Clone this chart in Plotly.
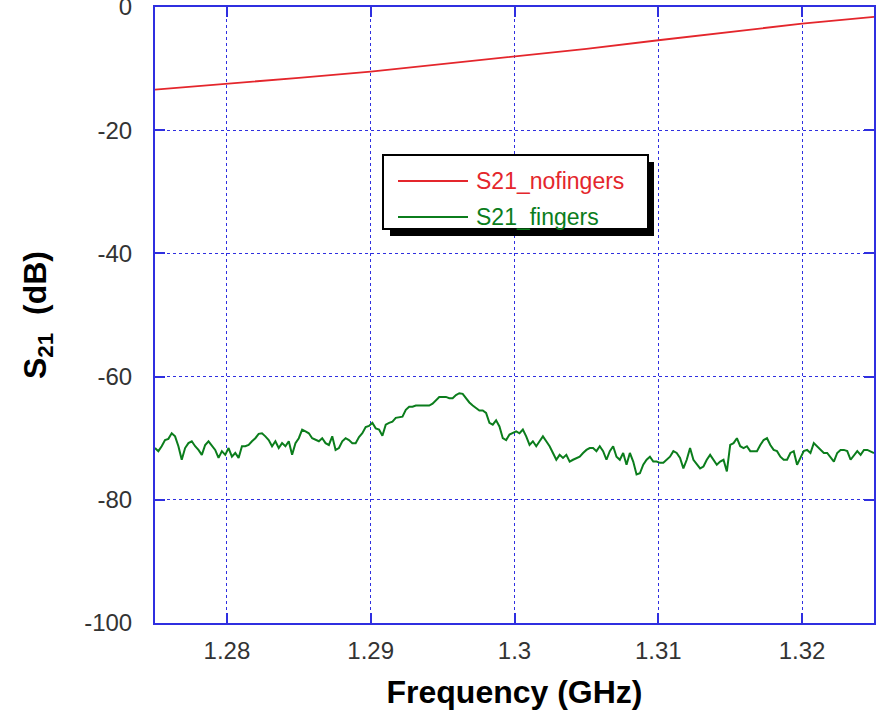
import numpy as np
import plotly.graph_objects as go

# ---- data ----
red_freq = [1.275, 1.28, 1.285, 1.29, 1.295, 1.30, 1.305, 1.31, 1.315, 1.32, 1.325]
red_db = [-13.4, -12.5, -11.5, -10.5, -9.3, -8.1, -6.8, -5.4, -4.0, -2.7, -1.6]

green_db = [
    # 1.275 - 1.2875
    -71.6, -72.1, -71.3, -70.3, -70.1, -69.2, -69.7, -71.3, -73.5, -71.6,
    -70.8, -70.5, -71.3, -71.9, -72.7, -71.1, -70.5, -71.3, -71.9, -73.2,
    -72.1, -72.7, -71.6, -73.0, -72.4, -73.2, -71.3, -71.3, -71.1, -70.5,
    -70.0, -69.3, -69.2, -69.7, -70.3, -71.3, -70.5, -71.6, -70.8, -71.3,
    -70.5, -72.7, -70.8, -70.0, -68.6, -68.9, -69.2, -70.0, -70.3, -70.5,
    -70.0, -70.8, -71.1, -69.7,
    # 1.2875 - 1.30
    -71.9, -71.6, -70.5, -70.0, -70.3, -70.8, -70.8, -69.8, -69.2, -68.2,
    -68.0, -67.5, -68.4, -68.6, -69.6, -67.8, -67.5, -67.3, -66.7, -66.6,
    -66.5, -65.4, -64.9, -64.9, -64.7, -64.7, -64.7, -64.8, -64.7, -64.4,
    -63.9, -63.3, -63.3, -63.3, -63.5, -63.5, -63.0, -62.7, -62.8, -63.5,
    -64.2, -64.7, -65.1, -65.5, -65.5, -65.9, -67.5, -67.8, -67.1, -68.1,
    -70.0, -70.3, -69.4, -69.2,
    # 1.30 - 1.3125
    -68.9, -69.2, -68.6, -69.7, -71.1, -70.5, -71.3, -70.5, -69.7, -70.5,
    -71.3, -72.4, -73.5, -72.7, -73.2, -72.7, -73.8, -73.5, -73.2, -73.0,
    -72.4, -71.9, -71.6, -71.6, -72.1, -71.3, -72.1, -73.5, -72.1, -71.3,
    -73.0, -73.5, -72.4, -74.3, -72.4, -73.8, -75.9, -75.7, -74.3, -73.5,
    -73.0, -73.8, -73.8, -74.0, -74.0, -73.5, -73.0, -72.1, -72.4, -73.2,
    -74.9, -73.5, -71.6, -73.5,
    # 1.3125 - 1.325
    -74.3, -74.9, -74.6, -73.5, -72.7, -73.5, -74.3, -73.8, -73.5, -75.4,
    -71.1, -70.8, -70.0, -71.3, -71.6, -71.3, -72.1, -72.1, -72.1, -71.1,
    -70.3, -70.0, -71.1, -71.9, -72.1, -73.0, -73.5, -73.5, -72.4, -72.1,
    -74.3, -73.2, -72.1, -71.9, -72.4, -70.8, -71.3, -71.9, -72.4, -72.4,
    -73.2, -73.8, -72.4, -71.9, -71.9, -72.1, -73.5, -72.7, -72.1, -72.7,
    -71.9, -71.9, -72.1, -72.4,
]
green_freq = np.linspace(1.275, 1.325, len(green_db))

series_names = ["S21_nofingers", "S21_fingers"]
x_tickvals = [1.28, 1.29, 1.30, 1.31, 1.32]
x_ticktext = ["1.28", "1.29", "1.3", "1.31", "1.32"]
y_tickvals = [-100, -80, -60, -40, -20, 0]
y_ticktext = ["-100", "-80", "-60", "-40", "-20", "0"]

RED = "#e4262c"
GREEN = "#0b7d1c"
BLUE = "#2f2fe0"
FONT = "Liberation Sans, Arial, sans-serif"

fig = go.Figure()
fig.add_trace(go.Scatter(
    x=red_freq, y=red_db, mode="lines", name=series_names[0],
    line=dict(color=RED, width=1.8), showlegend=False,
))
fig.add_trace(go.Scatter(
    x=green_freq, y=green_db, mode="lines", name=series_names[1],
    line=dict(color=GREEN, width=2.0), showlegend=False,
))

axis_common = dict(
    showline=True, linecolor=BLUE, linewidth=2, mirror="ticks",
    showgrid=True, gridcolor=BLUE, griddash="dot", gridwidth=1.2,
    ticks="inside", ticklen=10, tickwidth=2, tickcolor=BLUE,
    zeroline=False, ticklabeloverflow="allow", automargin=False,
    tickfont=dict(family=FONT, size=24, color="#333333"),
)

# plot area in pixels: x 155..874, y 7..623
def px(x):
    return (x - 155) / 719.0

def py(y):
    return 1 - (y - 7) / 616.0

# hand-drawn legend box (with drop shadow) like the original
shapes = [
    dict(type="rect", xref="paper", yref="paper",
         x0=px(390), x1=px(654), y0=py(236), y1=py(162),
         fillcolor="black", line=dict(width=0), layer="above"),
    dict(type="rect", xref="paper", yref="paper",
         x0=px(383), x1=px(648), y0=py(229), y1=py(155),
         fillcolor="white", line=dict(color="black", width=2), layer="above"),
    dict(type="line", xref="paper", yref="paper",
         x0=px(398), x1=px(468), y0=py(181), y1=py(181),
         line=dict(color=RED, width=1.8), layer="above"),
    dict(type="line", xref="paper", yref="paper",
         x0=px(398), x1=px(468), y0=py(217), y1=py(217),
         line=dict(color=GREEN, width=1.8), layer="above"),
]
annotations = [
    dict(text=series_names[0], xref="paper", yref="paper",
         x=px(474), y=py(181), xanchor="left", yanchor="middle",
         showarrow=False, font=dict(family=FONT, size=23, color=RED)),
    dict(text=series_names[1], xref="paper", yref="paper",
         x=px(474), y=py(217), xanchor="left", yanchor="middle",
         showarrow=False, font=dict(family=FONT, size=23, color=GREEN)),
]

fig.update_layout(
    width=880, height=713,
    margin=dict(l=155, r=6, t=7, b=90),
    paper_bgcolor="white", plot_bgcolor="white",
    showlegend=False,
    xaxis=dict(
        range=[1.275, 1.325], tickvals=x_tickvals, ticktext=x_ticktext,
        ticklabelstandoff=5,
        title=dict(text="Frequency (GHz)", standoff=18,
                   font=dict(family=FONT, size=32, color="black", weight="bold")),
        **axis_common,
    ),
    yaxis=dict(
        range=[-100, 0], tickvals=y_tickvals, ticktext=y_ticktext,
        ticklabelstandoff=16,
        title=dict(text="S<sub>21</sub>  (dB)", standoff=28,
                   font=dict(family=FONT, size=32, color="black", weight="bold")),
        **axis_common,
    ),
    shapes=shapes,
    annotations=annotations,
)

fig.write_html("out.html")
